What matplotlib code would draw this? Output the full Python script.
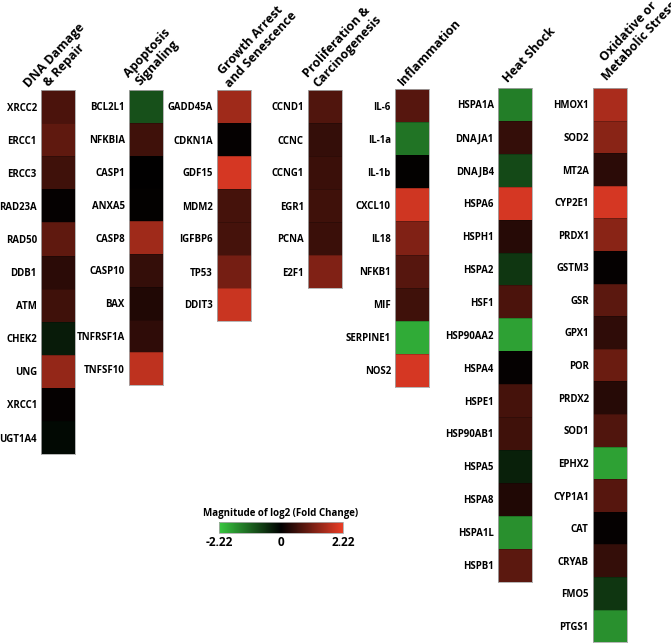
import matplotlib
matplotlib.use("Agg")
import matplotlib.pyplot as plt
import numpy as np
from matplotlib.colors import LinearSegmentedColormap

plt.rcParams['font.family'] = ['Open Sans', 'DejaVu Sans']

# gene groups and log2 fold change values
dna_genes = ['XRCC2', 'ERCC1', 'ERCC3', 'RAD23A', 'RAD50', 'DDB1', 'ATM', 'CHEK2', 'UNG', 'XRCC1', 'UGT1A4']
dna_vals = [0.7, 0.9, 0.6, 0.05, 0.9, 0.4, 0.6, -0.3, 1.4, 0.05, -0.1]

apo_genes = ['BCL2L1', 'NFKBIA', 'CASP1', 'ANXA5', 'CASP8', 'CASP10', 'BAX', 'TNFRSF1A', 'TNFSF10']
apo_vals = [-0.9, 0.6, 0.0, 0.02, 1.5, 0.5, 0.3, 0.45, 1.8]

growth_genes = ['GADD45A', 'CDKN1A', 'GDF15', 'MDM2', 'IGFBP6', 'TP53', 'DDIT3']
growth_vals = [1.5, 0.05, 2.0, 0.65, 0.65, 1.1, 1.9]

prolif_genes = ['CCND1', 'CCNC', 'CCNG1', 'EGR1', 'PCNA', 'E2F1']
prolif_vals = [0.75, 0.5, 0.55, 0.6, 0.55, 1.2]

infl_genes = ['IL-6', 'IL-1a', 'IL-1b', 'CXCL10', 'IL18', 'NFKB1', 'MIF', 'SERPINE1', 'NOS2']
infl_vals = [0.8, -1.3, 0.02, 1.95, 1.2, 0.8, 0.6, -1.9, 2.0]

heat_genes = ['HSPA1A', 'DNAJA1', 'DNAJB4', 'HSPA6', 'HSPH1', 'HSPA2', 'HSF1', 'HSP90AA2',
              'HSPA4', 'HSPE1', 'HSP90AB1', 'HSPA5', 'HSPA8', 'HSPA1L', 'HSPB1']
heat_vals = [-1.4, 0.5, -0.8, 2.0, 0.35, -0.6, 0.7, -1.8, 0.05, 0.65, 0.6, -0.35, 0.3, -1.6, 0.85]

ox_genes = ['HMOX1', 'SOD2', 'MT2A', 'CYP2E1', 'PRDX1', 'GSTM3', 'GSR', 'GPX1', 'POR',
            'PRDX2', 'SOD1', 'EPHX2', 'CYP1A1', 'CAT', 'CRYAB', 'FMO5', 'PTGS1']
ox_vals = [1.6, 1.3, 0.4, 2.0, 1.3, 0.05, 0.85, 0.45, 1.0, 0.35, 0.75, -1.8, 0.8, 0.05, 0.5, -0.6, -1.6]

titles = ['DNA Damage\n& Repair', 'Apoptosis\nSignaling', 'Growth Arrest\nand Senescence',
          'Proliferation &\nCarcinogenesis', 'Inflammation', 'Heat Shock',
          'Oxidative or\nMetabolic Stress']
groups = [(dna_genes, dna_vals), (apo_genes, apo_vals), (growth_genes, growth_vals),
          (prolif_genes, prolif_vals), (infl_genes, infl_vals), (heat_genes, heat_vals),
          (ox_genes, ox_vals)]

vmax = 2.22
cmap = LinearSegmentedColormap.from_list('gkr', [(0.22, 0.78, 0.25), (0, 0, 0), (0.92, 0.24, 0.15)])

W, H = 671, 643
fig = plt.figure(figsize=(W / 100, H / 100), dpi=100)

# column placement in pixels: left edge, top edge, cell height
col_x = [41, 129, 217, 308, 395, 498, 593]
col_top = [90, 90, 90, 90, 89, 88, 88]
cell_h = [33.1, 32.8, 33.0, 33.0, 33.1, 32.9, 32.6]
col_w = 34
# bottom-left corner of each rotated header block, pixels
hdr_xy = [(41, 100), (141, 90), (232, 90), (320, 90), (405, 88), (510, 85), (609, 83)]

for i, (genes, vals) in enumerate(groups):
    n = len(genes)
    h = n * cell_h[i]
    ax = fig.add_axes([col_x[i] / W, 1 - (col_top[i] + h) / H, col_w / W, h / H])
    ax.pcolormesh(np.array(vals).reshape(-1, 1), cmap=cmap, vmin=-vmax, vmax=vmax,
                  edgecolors=(0, 0, 0, 0.2), linewidth=0.5)
    ax.set_ylim(n, 0)
    ax.set_xticks([])
    ax.set_yticks(np.arange(n) + 0.5)
    ax.set_yticklabels(genes, fontsize=6.9, fontweight='bold')
    ax.tick_params(axis='y', length=0, pad=3)
    for s in ax.spines.values():
        s.set_color('#aaaaaa')
        s.set_linewidth(0.6)
    hx, hy = hdr_xy[i]
    fig.text(hx / W, 1 - hy / H, titles[i], rotation=47,
             rotation_mode='anchor', ha='left', va='bottom', multialignment='center',
             fontsize=9, fontweight='bold', linespacing=1.1)

# colorbar
cax = fig.add_axes([219 / W, 1 - 533 / H, 124 / W, 11 / H])
sm = plt.cm.ScalarMappable(cmap=cmap, norm=plt.Normalize(-vmax, vmax))
cb = fig.colorbar(sm, cax=cax, orientation='horizontal')
cb.set_ticks([-vmax, 0, vmax])
cb.set_ticklabels(['-2.22', '0', '2.22'])
cb.ax.tick_params(labelsize=8.5, length=0, pad=2)
for lab in cb.ax.get_xticklabels():
    lab.set_fontweight('bold')
cb.outline.set_linewidth(0.6)
cb.outline.set_edgecolor('#aaaaaa')
cax.set_title('Magnitude of log2 (Fold Change)', fontsize=7, fontweight='bold', pad=4)

fig.savefig('out.png', dpi=100)
